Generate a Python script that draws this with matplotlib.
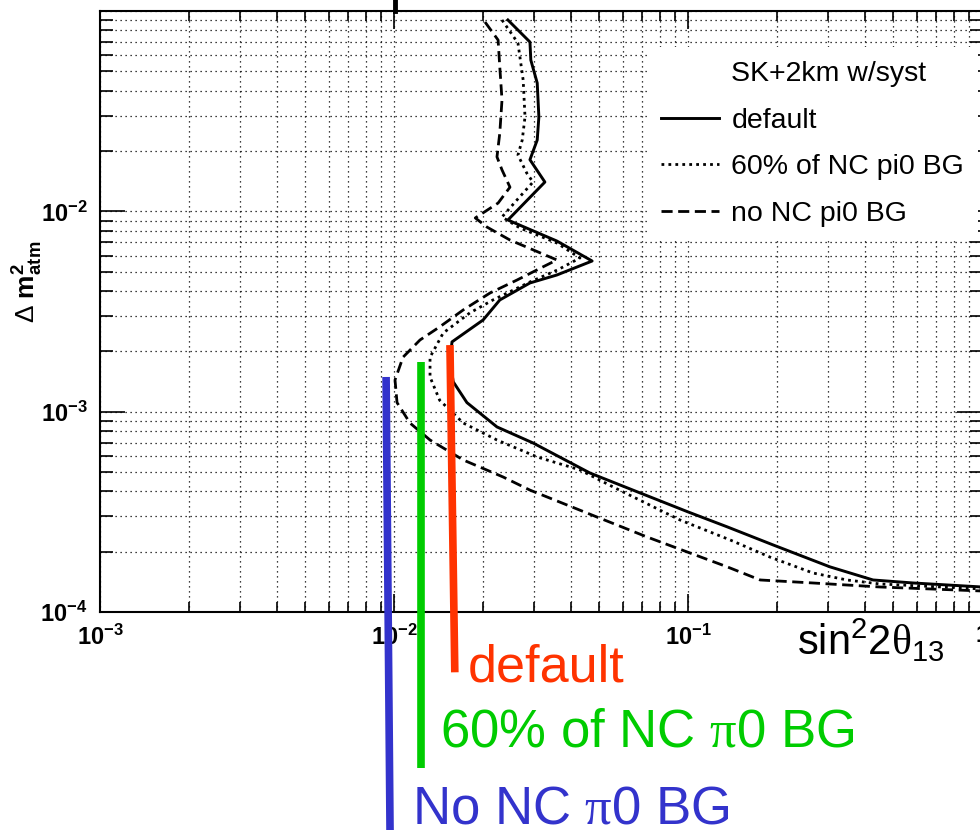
import matplotlib
matplotlib.use('Agg')
import numpy as np
import matplotlib.pyplot as plt
from matplotlib.lines import Line2D
from matplotlib.ticker import FuncFormatter, NullFormatter

plt.rcParams['font.family'] = ['Liberation Sans', 'DejaVu Sans']
plt.rcParams['mathtext.fontset'] = 'custom'
plt.rcParams['mathtext.rm'] = 'Liberation Sans'
plt.rcParams['mathtext.it'] = 'Liberation Sans:italic'
plt.rcParams['mathtext.bf'] = 'Liberation Sans:bold'
plt.rcParams['mathtext.sf'] = 'Liberation Serif'

# contour: default
def_x = [0.0244, 0.0290, 0.0292, 0.0307, 0.0311, 0.0307, 0.0290, 0.0326, 0.0244,
         0.0358, 0.0472, 0.0358, 0.0290, 0.0229, 0.0201, 0.01575, 0.0155, 0.0159,
         0.0177, 0.0224, 0.0297, 0.0464, 0.0687, 0.100, 0.136, 0.195, 0.304,
         0.426, 0.583, 1.0]
def_y = [0.0902, 0.0700, 0.0569, 0.0437, 0.0296, 0.0227, 0.0181, 0.0140, 0.00905,
         0.00711, 0.00565, 0.00481, 0.00439, 0.00361, 0.00287, 0.00223, 0.00181,
         0.00141, 0.00111, 0.000839, 0.000698, 0.000494, 0.000393, 0.000316,
         0.000266, 0.000216, 0.000168, 0.0001445, 0.0001396, 0.0001333]

# contour: 60% of NC pi0 BG
p60_x = [0.0233, 0.0264, 0.0275, 0.0279, 0.0273, 0.0264, 0.0283, 0.0297, 0.0262,
         0.0233, 0.0268, 0.0358, 0.0429, 0.0360, 0.0290, 0.0217, 0.0181, 0.0147,
         0.01326, 0.01326, 0.0143, 0.0172, 0.0224, 0.0307, 0.0429, 0.0556, 0.0939,
         0.139, 0.190, 0.266, 0.347, 0.450, 1.0]
p60_y = [0.0902, 0.0692, 0.0452, 0.0296, 0.0227, 0.0191, 0.0155, 0.0140, 0.0114,
         0.00937, 0.00826, 0.00695, 0.00585, 0.00510, 0.00444, 0.00361, 0.00311,
         0.00247, 0.00187, 0.00149, 0.00114, 0.000878, 0.000722, 0.000594,
         0.000512, 0.000421, 0.000288, 0.000229, 0.000188, 0.0001566, 0.0001445,
         0.000138, 0.0001303]

# contour: no NC pi0 BG
no_x = [0.0204, 0.0226, 0.0229, 0.0233, 0.0229, 0.0224, 0.0233, 0.0248, 0.0226,
        0.0189, 0.0207, 0.0248, 0.0358, 0.0321, 0.0262, 0.0212, 0.0172, 0.0143,
        0.01226, 0.01073, 0.01008, 0.01024, 0.01133, 0.01326, 0.0172, 0.0235,
        0.0290, 0.0490, 0.0725, 0.1016, 0.136, 0.176, 0.266, 0.450, 1.0]
no_y = [0.0881, 0.0716, 0.0525, 0.0360, 0.0246, 0.0187, 0.0161, 0.0132, 0.0110,
        0.00927, 0.00835, 0.00719, 0.00572, 0.00528, 0.00454, 0.00391, 0.00322,
        0.00265, 0.00228, 0.00187, 0.00144, 0.00111, 0.000878, 0.000722, 0.000574,
        0.000472, 0.000406, 0.000298, 0.000237, 0.000197, 0.000168, 0.0001445,
        0.0001396, 0.0001333, 0.0001273]

# coloured marker bars (top / bottom ends)
bar_colors = ['#ff3300', '#00cc00', '#3333cc']
bar_x_top = [0.0155, 0.01235, 0.0094]
bar_y_top = [0.00215, 0.00177, 0.00149]
bar_x_bot = [0.0161, 0.01235, 0.0097]
bar_y_bot = [5.0e-5, 1.66e-5, 7.3e-6]

legend_title = 'SK+2km w/syst'
legend_labels = ['default', '60% of NC pi0 BG', 'no NC pi0 BG']

fig = plt.figure(figsize=(9.8, 8.3), dpi=100)
ax = fig.add_axes([100/980, 218/830, 882/980, 601/830])
ax.set_xscale('log')
ax.set_yscale('log')
ax.set_xlim(1e-3, 1)
ax.set_ylim(1e-4, 1e-1)

l1, = ax.plot(def_x, def_y, color='black', lw=2.1, ls='-')
l2, = ax.plot(p60_x, p60_y, color='black', lw=2, ls=(0, (1, 1.5)))
l3, = ax.plot(no_x, no_y, color='black', lw=2, ls=(0, (4, 2)))

for c, xt, yt, xb, yb in zip(bar_colors, bar_x_top, bar_y_top, bar_x_bot, bar_y_bot):
    ax.plot([xb, xt], [yb, yt], color=c, lw=5.5, clip_on=False,
            solid_capstyle='butt', zorder=6)

# grid + ticks, ROOT style
ax.set_axisbelow(True)
ax.grid(True, which='both', color='black', ls=(0, (1, 3)), lw=0.9)
for s in ax.spines.values():
    s.set_linewidth(1.5)
ax.tick_params(which='both', direction='in', top=True, right=True, width=1.2)
ax.tick_params(axis='x', which='major', length=13, pad=9, labelsize=17)
ax.tick_params(axis='x', which='minor', length=7)
ax.tick_params(axis='y', which='major', length=18, pad=9, labelsize=17)
ax.tick_params(axis='y', which='minor', length=9)


def decade(v, pos):
    e = int(round(np.log10(v)))
    if e == 0:
        return r'$\mathbf{1}$'
    return r'$\mathbf{10^{%d}}$' % e


def decade_y(v, pos):
    # no label at the very top of the frame
    if v > 0.05:
        return ''
    return decade(v, pos)


ax.xaxis.set_major_formatter(FuncFormatter(decade))
ax.yaxis.set_major_formatter(FuncFormatter(decade_y))
ax.xaxis.set_minor_formatter(NullFormatter())
ax.yaxis.set_minor_formatter(NullFormatter())

# legend with header row
blank = Line2D([], [], color='none')
leg = ax.legend([blank, l1, l2, l3], [legend_title] + legend_labels,
                loc='upper left', bbox_to_anchor=(0.620, 0.940),
                fontsize=20.5, frameon=True, facecolor='white', edgecolor='none',
                framealpha=1, fancybox=False, borderpad=0.5, borderaxespad=0,
                labelspacing=0.72, handlelength=2.05, handletextpad=0.42)
leg.set_zorder(5)

# axis titles
fig.text(945/980, 1 - 655/830, r'$\mathrm{sin}^{2}2\mathsf{\theta}_{13}$',
         ha='right', va='baseline', fontsize=30)
fig.text(28/980, 1 - 282/830, r'$\mathrm{\Delta}\ \mathbf{m^{2}_{atm}}$',
         rotation=90, ha='center', va='center', fontsize=19)

# annotations under the plot
fig.text(468/980, 1 - 681/830, 'default', color=bar_colors[0],
         fontsize=37.5, va='baseline')
fig.text(440/980, 1 - 746/830, r'60% of NC $\mathsf{\pi}$0 BG', color=bar_colors[1],
         fontsize=38, va='baseline')
fig.text(412/980, 1 - 823/830, r'No NC $\mathsf{\pi}$0 BG', color=bar_colors[2],
         fontsize=38, va='baseline')

# bit of the cut-off title at the top
fig.add_artist(Line2D([395/980, 395/980], [1.0, 1 - 11/830], color='black', lw=3.5))

fig.savefig('out.png', dpi=100)
